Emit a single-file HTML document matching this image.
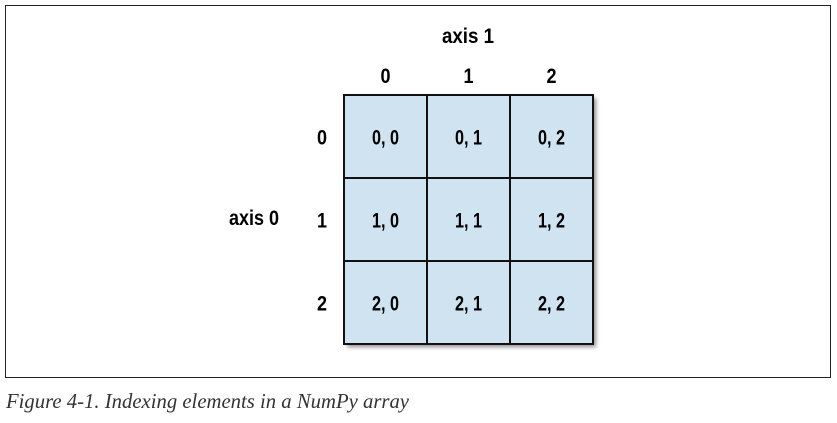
<!DOCTYPE html>
<html><head><meta charset="utf-8"><style>
body{margin:0;background:#fff;width:837px;height:418px;overflow:hidden;font-family:"Liberation Sans",sans-serif}
</style></head><body>
<svg width="837" height="418">
<defs><filter id="sh" x="-10%" y="-10%" width="130%" height="130%"><feDropShadow dx="3" dy="3" stdDeviation="2" flood-color="#000" flood-opacity="0.45"/></filter></defs>
<rect x="5.5" y="5.5" width="825" height="372" fill="#fff" stroke="#222" stroke-width="1"/>
<g id="grid"></g>
<text x="468" y="43" font-size="21" font-weight="bold" text-anchor="middle" textLength="52" lengthAdjust="spacingAndGlyphs">axis 1</text>
<text x="254" y="225" font-size="21" font-weight="bold" text-anchor="middle" textLength="50" lengthAdjust="spacingAndGlyphs">axis 0</text>
<text x="6" y="408" font-family="Liberation Serif,serif" font-style="italic" font-size="21" fill="#333" textLength="403" lengthAdjust="spacingAndGlyphs">Figure 4-1. Indexing elements in a NumPy array</text>
</svg>
<script>
const rows=[0,1,2];
const cols=[0,1,2];
const x0=344,y0=95,cs=83;
const g=document.getElementById('grid');
const NS='http://www.w3.org/2000/svg';
const bg=document.createElementNS(NS,'rect');
bg.setAttribute('x',x0);bg.setAttribute('y',y0);bg.setAttribute('width',cs*cols.length);bg.setAttribute('height',cs*rows.length);
bg.setAttribute('fill','#cfe3f0');bg.setAttribute('filter','url(#sh)');


g.appendChild(bg);
rows.forEach((r,i)=>cols.forEach((c,j)=>{
 const rc=document.createElementNS(NS,'rect');
 rc.setAttribute('x',x0+j*cs);rc.setAttribute('y',y0+i*cs);rc.setAttribute('width',cs);rc.setAttribute('height',cs);
 rc.setAttribute('fill','#cfe3f0');rc.setAttribute('stroke','#111');rc.setAttribute('stroke-width','2');
 
 
 g.appendChild(rc);
 const t=document.createElementNS(NS,'text');
 t.setAttribute('x',x0+j*cs+cs/2);t.setAttribute('y',y0+i*cs+cs/2+8);
 t.setAttribute('text-anchor','middle');t.setAttribute('font-size','21');t.setAttribute('font-weight','bold');
 t.setAttribute('textLength','27');t.setAttribute('lengthAdjust','spacingAndGlyphs');
 t.textContent=r+', '+c;
 
 
 g.appendChild(t);
}));
cols.forEach((c,j)=>{
 const t=document.createElementNS(NS,'text');
 t.setAttribute('x',x0+j*cs+cs/2);t.setAttribute('y',83);t.setAttribute('text-anchor','middle');
 t.setAttribute('font-size','21');t.setAttribute('font-weight','bold');
 t.setAttribute('textLength','10');t.setAttribute('lengthAdjust','spacingAndGlyphs');
 t.textContent=c;
 
 
 g.appendChild(t);
});
rows.forEach((r,i)=>{
 const t=document.createElementNS(NS,'text');
 t.setAttribute('x',322);t.setAttribute('y',y0+i*cs+cs/2+8);t.setAttribute('text-anchor','middle');
 t.setAttribute('font-size','21');t.setAttribute('font-weight','bold');
 t.setAttribute('textLength','10');t.setAttribute('lengthAdjust','spacingAndGlyphs');
 t.textContent=r;
 
 
 g.appendChild(t);
});
</script>
</body></html>
